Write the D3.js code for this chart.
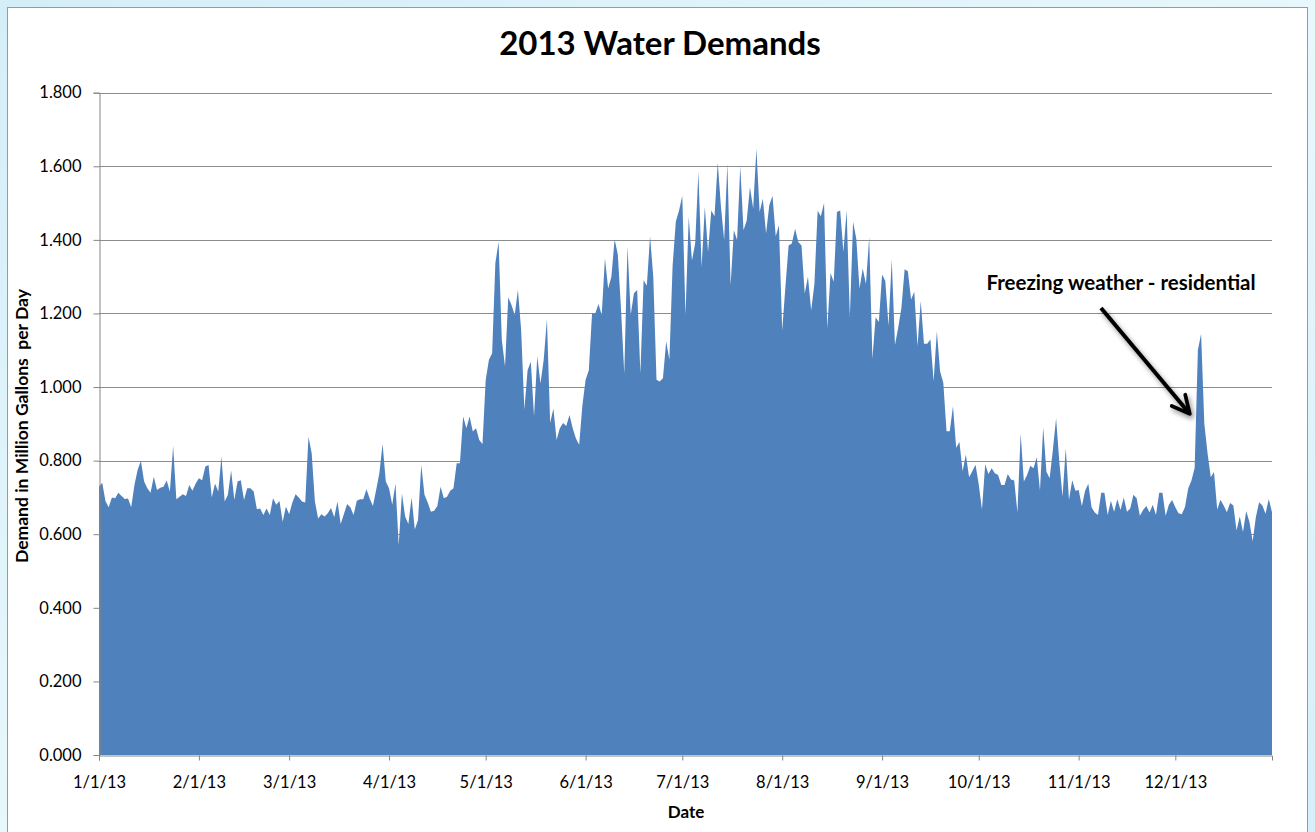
<!DOCTYPE html>
<html>
<head>
<meta charset="utf-8">
<script src="https://cdn.jsdelivr.net/npm/d3@7"></script>
<style>
  html, body { margin: 0; padding: 0; background: #dff3fa; }
  svg { display: block; }
  text { font-family: Lato, "Open Sans", sans-serif; }
</style>
</head>
<body>
<svg id="chart" width="1315" height="832"></svg>
<script>
// ---- data (million gallons per day, daily 2013) ----
const jan = [0.729,0.74,0.69,0.673,0.70,0.698,0.713,0.704,0.696,0.697,0.673,0.734,0.775,0.80,0.743,0.725,0.713,0.756,0.72,0.726,0.729,0.746,0.716,0.84,0.695,0.702,0.709,0.704,0.734,0.718,0.738];
const feb = [0.752,0.747,0.784,0.788,0.70,0.738,0.716,0.811,0.689,0.707,0.773,0.693,0.743,0.747,0.693,0.725,0.725,0.716,0.668,0.67,0.652,0.67,0.652,0.698,0.68,0.69,0.634,0.675];
const mar = [0.654,0.686,0.709,0.70,0.689,0.686,0.865,0.82,0.689,0.643,0.654,0.648,0.657,0.671,0.646,0.689,0.628,0.655,0.682,0.673,0.652,0.691,0.695,0.695,0.722,0.697,0.677,0.72,0.766,0.845,0.743];
const apr = [0.725,0.68,0.738,0.57,0.711,0.648,0.628,0.70,0.613,0.639,0.788,0.707,0.686,0.661,0.664,0.677,0.729,0.698,0.702,0.718,0.725,0.793,0.793,0.92,0.888,0.92,0.879,0.888,0.856,0.845];
const may = [1.019,1.074,1.092,1.337,1.395,1.128,1.056,1.244,1.223,1.196,1.264,1.155,0.938,1.046,1.069,0.92,1.083,1.01,1.074,1.184,0.902,0.942,0.856,0.888,0.902,0.894,0.924,0.888,0.86,0.843,0.95];
const jun = [1.02,1.046,1.20,1.20,1.226,1.196,1.35,1.268,1.30,1.402,1.36,1.21,1.037,1.382,1.196,1.255,1.264,1.037,1.29,1.275,1.41,1.30,1.02,1.015,1.024,1.124,1.074,1.33,1.45,1.48];
const jul = [1.52,1.195,1.462,1.344,1.39,1.585,1.326,1.49,1.367,1.48,1.464,1.61,1.49,1.40,1.607,1.276,1.426,1.40,1.60,1.426,1.453,1.544,1.485,1.648,1.476,1.512,1.417,1.494,1.52,1.41,1.44];
const aug = [1.154,1.272,1.385,1.39,1.43,1.394,1.385,1.254,1.30,1.208,1.28,1.479,1.464,1.50,1.159,1.31,1.286,1.476,1.48,1.367,1.48,1.19,1.449,1.403,1.267,1.322,1.28,1.408,1.077,1.19,1.177];
const sep = [1.306,1.288,1.166,1.347,1.114,1.161,1.215,1.32,1.315,1.238,1.259,1.111,1.234,1.118,1.118,1.129,1.016,1.152,1.043,1.012,0.88,0.88,0.948,0.835,0.851,0.771,0.817,0.755,0.771,0.789];
const oct = [0.735,0.667,0.79,0.764,0.779,0.766,0.761,0.734,0.734,0.764,0.749,0.746,0.659,0.874,0.743,0.761,0.786,0.779,0.809,0.718,0.891,0.77,0.752,0.829,0.915,0.797,0.702,0.834,0.693,0.747,0.718];
const nov = [0.72,0.677,0.718,0.737,0.673,0.659,0.652,0.713,0.713,0.652,0.691,0.661,0.695,0.666,0.70,0.661,0.67,0.707,0.698,0.65,0.666,0.677,0.659,0.68,0.652,0.713,0.713,0.65,0.68,0.693];
const dec = [0.673,0.657,0.654,0.674,0.724,0.746,0.78,1.10,1.145,0.90,0.82,0.755,0.769,0.667,0.694,0.678,0.66,0.685,0.678,0.61,0.648,0.606,0.663,0.633,0.581,0.647,0.687,0.678,0.656,0.696,0.66];
const yTicks = [0, 0.2, 0.4, 0.6, 0.8, 1.0, 1.2, 1.4, 1.6, 1.8];
const titleText = "2013 Water Demands";
const xTitle = "Date";
const yTitle = "Demand in Million Gallons\u00a0 per Day";
const noteText = "Freezing weather - residential";
const noteDay = "2013-12-09";

// ---- build series ----
const monthly = [jan, feb, mar, apr, may, jun, jul, aug, sep, oct, nov, dec];
const start = new Date(2013, 0, 1);
const series = [];
monthly.forEach(arr => arr.forEach(v => {
  series.push({ date: d3.timeDay.offset(start, series.length), v });
}));

const svg = d3.select("#chart");
const W = 1315, H = 832;

// background
const defs = svg.append("defs");
const bg = defs.append("linearGradient").attr("id", "bg").attr("x1", 0).attr("y1", 0).attr("x2", 1).attr("y2", 1);
bg.append("stop").attr("offset", "0%").attr("stop-color", "#d4eef8");
bg.append("stop").attr("offset", "50%").attr("stop-color", "#e8f7fc");
bg.append("stop").attr("offset", "100%").attr("stop-color", "#d6eff8");
const sh = defs.append("filter").attr("id", "shadow").attr("x", "-30%").attr("y", "-30%").attr("width", "160%").attr("height", "160%");
sh.append("feDropShadow").attr("dx", 2).attr("dy", 3).attr("stdDeviation", 2.5).attr("flood-color", "#000").attr("flood-opacity", 0.45);
const mk = defs.append("marker").attr("id", "arrow").attr("viewBox", "0 0 10 10")
  .attr("refX", 8.5).attr("refY", 5).attr("markerWidth", 5.5).attr("markerHeight", 5.5)
  .attr("orient", "auto").attr("markerUnits", "strokeWidth");
mk.append("path").attr("d", "M1,1 L9,5 L1,9").attr("fill", "none").attr("stroke", "#000")
  .attr("stroke-width", 1.7).attr("stroke-linecap", "round").attr("stroke-linejoin", "round");

svg.append("rect").attr("width", W).attr("height", H).attr("fill", "url(#bg)");
svg.append("rect").attr("x", 7.5).attr("y", 7.5).attr("width", 1300).attr("height", 840)
  .attr("fill", "#fff").attr("stroke", "#9a9a9a").attr("stroke-width", 1);

// ---- scales ----
const x = d3.scaleTime().domain([start, new Date(2013, 11, 31)]).range([99, 1272]);
const y = d3.scaleLinear().domain([0, 1.8]).range([755, 92.7]);

// gridlines
svg.append("g").selectAll("line").data(yTicks.slice(1)).join("line")
  .attr("x1", 99).attr("x2", 1272)
  .attr("y1", d => Math.round(y(d)) + 0.5).attr("y2", d => Math.round(y(d)) + 0.5)
  .attr("stroke", "#8c8c8c").attr("stroke-width", 1);

// area
const area = d3.area().x(d => x(d.date)).y0(y(0)).y1(d => y(d.v));
svg.append("path").datum(series).attr("d", area).attr("fill", "#4f81bd");

// axes
const yAxis = svg.append("g").attr("transform", "translate(99.5,0)")
  .call(d3.axisLeft(y).tickValues(yTicks).tickFormat(d3.format(".3f")).tickSize(6).tickPadding(12));
const xAxis = svg.append("g").attr("transform", "translate(0,755.5)")
  .call(d3.axisBottom(x).ticks(d3.timeMonth.every(1)).tickFormat(d3.timeFormat("%-m/%-d/%y")).tickSize(5).tickPadding(16));
[yAxis, xAxis].forEach(g => {
  g.select(".domain").attr("stroke", "#868686");
  g.selectAll(".tick line").attr("stroke", "#868686");
  g.selectAll(".tick text").attr("fill", "#000").style("font-size", "16.5px").style("font-family", "Lato, sans-serif");
});

// titles
svg.append("text").attr("x", 660).attr("y", 55).attr("text-anchor", "middle")
  .style("font-size", "33px").style("font-weight", "bold").text(titleText);
svg.append("text").attr("x", 686).attr("y", 818).attr("text-anchor", "middle")
  .style("font-size", "17px").style("font-weight", "bold").text(xTitle);
svg.append("text").attr("transform", "translate(28,426) rotate(-90)").attr("text-anchor", "middle")
  .style("font-size", "17.5px").style("font-weight", "bold").text(yTitle);

// annotation
svg.append("text").attr("x", 1121).attr("y", 290).attr("text-anchor", "middle")
  .style("font-size", "20.5px").style("font-weight", "bold").text(noteText);
const nd = d3.timeParse("%Y-%m-%d")(noteDay);
svg.append("line").attr("x1", 1101).attr("y1", 308).attr("x2", x(nd) - 12).attr("y2", 413)
  .attr("stroke", "#000").attr("stroke-width", 4).attr("marker-end", "url(#arrow)")
  .attr("filter", "url(#shadow)");
</script>
</body>
</html>
